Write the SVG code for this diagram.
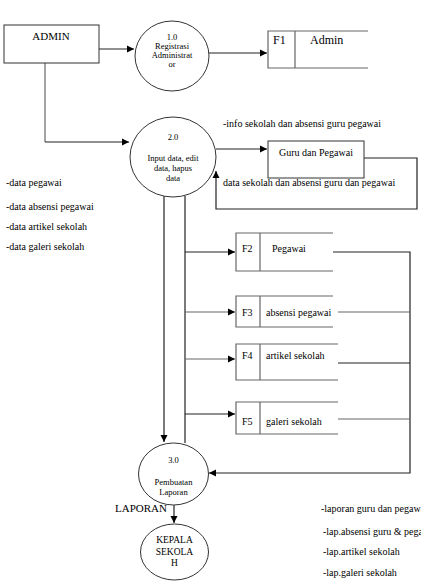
<svg xmlns="http://www.w3.org/2000/svg" width="421" height="582" viewBox="0 0 421 582" font-family="'Liberation Serif', 'DejaVu Serif', serif">
<style>
text{font-family:'Liberation Serif','DejaVu Serif',serif;fill:#000}
.s{stroke:#333;stroke-width:1;fill:#fff}
.l{stroke:#222;stroke-width:1.2;fill:none}
.g{stroke:#666;stroke-width:1.2;fill:none}
</style>
<defs>
<marker id="ah" markerWidth="8" markerHeight="8" refX="7" refY="4" orient="auto" markerUnits="userSpaceOnUse">
<path d="M0,0.5 L7,4 L0,7.5 Z" fill="#000"/>
</marker>
</defs>
<rect width="421" height="582" fill="#fff"/>
<g id="connectors">
<path class="l" d="M99,49 H134" marker-end="url(#ah)"/>
<path class="l" d="M209,53 H267" marker-end="url(#ah)"/>
<path class="g" d="M45,63 V142"/>
<path class="l" d="M45,142 H129" marker-end="url(#ah)"/>
<path class="l" d="M216,149 H267" marker-end="url(#ah)"/>
<path class="l" d="M364,158 H417 V209 H216 V171" marker-end="url(#ah)"/>
<path class="l" d="M164,196 V442" marker-end="url(#ah)"/>
<path class="l" d="M185,196 V443"/>
<path class="l" d="M185,252 H235" marker-end="url(#ah)"/>
<path class="g" d="M185,312 H235" marker-end="url(#ah)"/>
<path class="g" d="M185,359 H235" marker-end="url(#ah)"/>
<path class="l" d="M185,414 H235" marker-end="url(#ah)"/>
<path class="l" d="M333,252 H410 V473 H209" marker-end="url(#ah)"/>
<path class="g" d="M338,312 H410"/>
<path class="l" d="M338,363 H410"/>
<path class="g" d="M338,419 H410"/>
<path class="l" d="M174,505 V523" marker-end="url(#ah)"/>
</g>
<g id="admin">
<rect class="s" x="4" y="25" width="95" height="38"/>
<text x="51" y="40" font-size="11" text-anchor="middle">ADMIN</text>
</g>
<g id="p1">
<ellipse class="s" cx="172" cy="56" rx="37" ry="35"/>
<text font-size="8.5" text-anchor="middle"><tspan x="172" y="40">1.0</tspan><tspan x="172" y="49">Registrasi</tspan><tspan x="172" y="58">Administrat</tspan><tspan x="172" y="67">or</tspan></text>
</g>
<g id="f1">
<path class="g" d="M368,31 H268 V68 H368 M295,31 V68"/>
<text x="273" y="44" font-size="12">F1</text>
<text x="310" y="44" font-size="12">Admin</text>
</g>
<g id="p2">
<ellipse class="s" cx="173" cy="157" rx="43" ry="40"/>
<text font-size="8.5" text-anchor="middle"><tspan x="173" y="140">2.0</tspan><tspan x="173" y="161">Input data, edit</tspan><tspan x="173" y="171">data, hapus</tspan><tspan x="173" y="181">data</tspan></text>
</g>
<g id="guru">
<rect class="s" x="268" y="141" width="96" height="37"/>
<text x="316" y="156" font-size="10" text-anchor="middle">Guru dan Pegawai</text>
</g>
<g id="f2">
<path class="g" d="M333,233 H236 V271 H333 M260,233 V271"/>
<text x="242" y="252" font-size="10">F2</text>
<text x="272" y="252" font-size="10">Pegawai</text>
</g>
<g id="f3">
<path class="g" d="M333,296 H236 V327 H333 M260,296 V327"/>
<text x="242" y="316" font-size="10">F3</text>
<text x="266" y="316" font-size="10">absensi pegawai</text>
</g>
<g id="f4">
<path class="g" d="M338,344 H236 V380 H338 M260,344 V380"/>
<text x="242" y="359" font-size="10">F4</text>
<text x="266" y="359" font-size="10">artikel sekolah</text>
</g>
<g id="f5">
<path class="g" d="M338,402 H236 V434 H338 M260,402 V434"/>
<text x="242" y="425" font-size="10">F5</text>
<text x="266" y="425" font-size="10">galeri sekolah</text>
</g>
<g id="p3">
<ellipse class="s" cx="173.5" cy="474" rx="35" ry="31"/>
<text font-size="8.5" text-anchor="middle"><tspan x="173.5" y="463">3.0</tspan><tspan x="173.5" y="485">Pembuatan</tspan><tspan x="173.5" y="495">Laporan</tspan></text>
</g>
<g id="kepala">
<ellipse class="s" cx="174.5" cy="552" rx="34" ry="28"/>
<text font-size="9.5" text-anchor="middle"><tspan x="174.5" y="543">KEPALA</tspan><tspan x="174.5" y="555">SEKOLA</tspan><tspan x="174.5" y="566">H</tspan></text>
</g>
<g id="labels">
<text x="223" y="127" font-size="10">-info sekolah dan absensi guru pegawai</text>
<text x="223" y="186" font-size="10">data sekolah dan absensi guru dan pegawai</text>
<text x="6" y="186" font-size="10">-data pegawai</text>
<text x="6" y="210" font-size="10">-data absensi pegawai</text>
<text x="6" y="230" font-size="10">-data artikel sekolah</text>
<text x="6" y="250" font-size="10">-data galeri sekolah</text>
<text x="115" y="512" font-size="11">LAPORAN</text>
<text x="321" y="512" font-size="10">-laporan guru dan pegawai</text>
<text x="323" y="535" font-size="10">-lap.absensi guru &amp; pegawai</text>
<text x="323" y="555" font-size="10">-lap.artikel sekolah</text>
<text x="323" y="576" font-size="10">-lap.galeri sekolah</text>
</g>
</svg>
